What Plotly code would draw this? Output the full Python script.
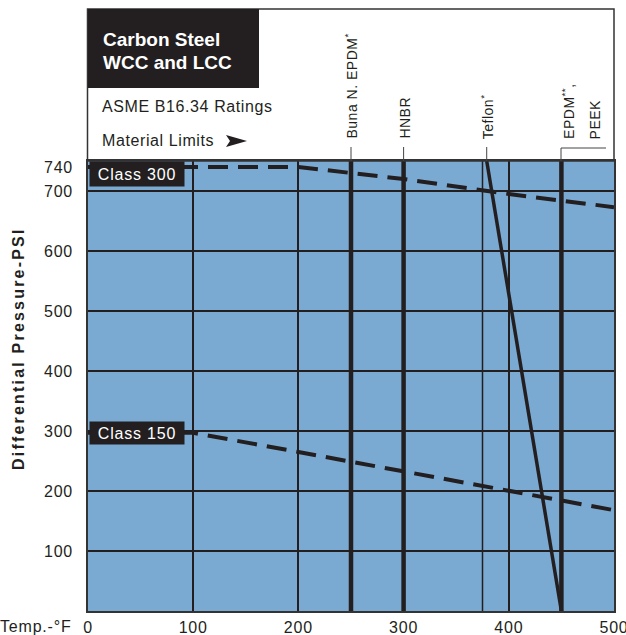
import plotly.graph_objects as go

# ---------------- data ----------------
temps = [0, 100, 200, 300, 400, 500]
class300 = [740, 740, 740, 720, 695, 673]
class150 = [297, 297, 265, 233, 200, 168]

material_names = ["Buna N. EPDM<sup>*</sup>", "HNBR", "EPDM<sup>**</sup>,"]
material_temps = [250, 300, 450]
teflon_temps = [379, 450]
teflon_press = [750, 0]
teflon_ref_temp = [375]

x_ticks = [0, 100, 200, 300, 400, 500]
y_ticks = [100, 200, 300, 400, 500, 600, 700, 740]
y_grid = [100, 200, 300, 400, 500, 600, 700]
x_grid = [100, 200, 300, 400]

Y_MAX = 750
FONT = "Liberation Sans, Arial, Helvetica, sans-serif"
INK = "#231f20"
BLUE = "#7aaad2"


def sp(text, ls):
    return f'<span style="letter-spacing:{ls}px">{text}</span>'


# pixel helpers for decorative header items (plot area: x 88..614, y 161..611)
L, R, T, B = 88, 614, 161, 611


def px(x):
    return (x - L) / (R - L)


def py(y):
    return (B - y) / (B - T)


fig = go.Figure()

# class rating lines
fig.add_trace(go.Scatter(x=temps, y=class300, mode="lines",
                         line=dict(color=INK, width=4, dash="20px,10px"),
                         hoverinfo="skip", showlegend=False))
fig.add_trace(go.Scatter(x=temps, y=class150, mode="lines",
                         line=dict(color=INK, width=4, dash="20px,10px"),
                         hoverinfo="skip", showlegend=False))

# material limit lines
for t in material_temps:
    fig.add_trace(go.Scatter(x=[t, t], y=[0, Y_MAX], mode="lines",
                             line=dict(color=INK, width=4.5),
                             hoverinfo="skip", showlegend=False))
fig.add_trace(go.Scatter(x=teflon_temps, y=teflon_press, mode="lines",
                         line=dict(color=INK, width=3.5),
                         hoverinfo="skip", showlegend=False))

shapes = []
# thin teflon reference line
for t in teflon_ref_temp:
    shapes.append(dict(type="line", xref="x", yref="paper", x0=t, x1=t, y0=0, y1=1,
                       line=dict(color=INK, width=1.5), layer="below"))

# header frame
shapes.append(dict(type="rect", xref="paper", yref="paper",
                   x0=px(87.5), x1=px(614), y0=py(161), y1=py(9),
                   line=dict(color="#333", width=1.5), fillcolor="rgba(0,0,0,0)"))
shapes.append(dict(type="rect", xref="paper", yref="paper",
                   x0=px(88), x1=px(259), y0=py(88), y1=py(9),
                   line=dict(width=0), fillcolor=INK))
# arrow
ax = [226, 247, 226, 230]
ay = [135, 141, 147, 141]
path = "M {} {} L {} {} L {} {} L {} {} Z".format(
    px(ax[0]), py(ay[0]), px(ax[1]), py(ay[1]), px(ax[2]), py(ay[2]), px(ax[3]), py(ay[3]))
shapes.append(dict(type="path", xref="paper", yref="paper", path=path,
                   fillcolor=INK, line=dict(width=0)))

# leader lines for material labels
for t in [250, 300, 379]:
    shapes.append(dict(type="line", xref="x", yref="paper", x0=t, x1=t,
                       y0=1, y1=py(147), line=dict(color="#444", width=1)))
# EPDM / PEEK bracket
shapes.append(dict(type="path", xref="paper", yref="paper",
                   path="M {} {} L {} {} L {} {}".format(px(561), 1, px(561), py(148), px(606), py(148)),
                   line=dict(color="#444", width=1)))

annotations = []
# header texts
annotations.append(dict(xref="paper", yref="paper", x=px(101), y=py(39), xanchor="left", yanchor="middle",
                        text="<b>Carbon Steel</b>", showarrow=False,
                        font=dict(family=FONT, size=19, color="white")))
annotations.append(dict(xref="paper", yref="paper", x=px(101), y=py(62), xanchor="left", yanchor="middle",
                        text="<b>WCC and LCC</b>", showarrow=False,
                        font=dict(family=FONT, size=19, color="white")))
annotations.append(dict(xref="paper", yref="paper", x=px(100), y=py(106), xanchor="left", yanchor="middle",
                        text=sp("ASME B16.34 Ratings", 0.6), showarrow=False,
                        font=dict(family=FONT, size=16, color=INK)))
annotations.append(dict(xref="paper", yref="paper", x=px(100), y=py(140), xanchor="left", yanchor="middle",
                        text=sp("Material Limits", 0.6), showarrow=False,
                        font=dict(family=FONT, size=16, color=INK)))

# material labels (rotated)
label_x = [250, 300, 450]
label_shift = [1, 1, 7]
for name, t, s in zip(material_names, label_x, label_shift):
    annotations.append(dict(xref="x", yref="paper", x=t, y=py(141), xanchor="center", yanchor="bottom",
                            text=sp(name, 0.5), textangle=-90, showarrow=False, xshift=s,
                            font=dict(family=FONT, size=14, color=INK)))
annotations.append(dict(xref="x", yref="paper", x=teflon_temps[0], y=py(141), xanchor="center",
                        yanchor="bottom", text=sp("Teflon<sup>*</sup>", 0.5), textangle=-90,
                        showarrow=False, xshift=1, font=dict(family=FONT, size=14, color=INK)))
annotations.append(dict(xref="x", yref="paper", x=material_temps[2], y=py(141), xanchor="center",
                        yanchor="bottom", text=sp("PEEK", 0.5), textangle=-90,
                        showarrow=False, xshift=34, font=dict(family=FONT, size=14, color=INK)))

# class labels
annotations.append(dict(xref="x", yref="y", x=0, y=728, xanchor="left", yanchor="middle", xshift=1,
                        text=sp("Class 300", 0.8), showarrow=False, bgcolor=INK, width=92, height=22,
                        font=dict(family=FONT, size=16, color="white")))
annotations.append(dict(xref="x", yref="y", x=0, y=297, xanchor="left", yanchor="middle", xshift=1,
                        text=sp("Class 150", 0.8), showarrow=False, bgcolor=INK, width=92, height=20,
                        font=dict(family=FONT, size=16, color="white")))

# axis titles
annotations.append(dict(xref="paper", yref="paper", x=px(18), y=py(349), xanchor="center", yanchor="middle",
                        text="<b>" + sp("Differential Pressure-PSI", 2.2) + "</b>", textangle=-90,
                        showarrow=False, font=dict(family=FONT, size=16, color=INK)))
annotations.append(dict(xref="paper", yref="paper", x=px(73), y=py(626), xanchor="right", yanchor="middle",
                        text=sp("Temp.-°F", 0.8), showarrow=False,
                        font=dict(family=FONT, size=16, color=INK)))

fig.update_layout(
    template="none",
    width=626, height=635,
    margin=dict(l=L, r=626 - R, t=T, b=635 - B, autoexpand=False),
    plot_bgcolor=BLUE, paper_bgcolor="white",
    shapes=shapes, annotations=annotations,
    font=dict(family=FONT, color=INK),
)
fig.update_xaxes(range=[0, 500], tickmode="array", tickvals=x_ticks,
                 ticktext=[sp(str(v), 0.8) for v in x_ticks],
                 showgrid=False, zeroline=False, showline=True, mirror=True, automargin=False,
                 linecolor="#333", linewidth=1.5, ticks="", ticklabelstandoff=1,
                 ticklabeloverflow="allow",
                 tickfont=dict(family=FONT, size=16, color=INK),
                 minor=dict(tickmode="array", tickvals=x_grid, showgrid=True,
                            gridcolor=INK, gridwidth=1.5, ticks=""))
fig.update_yaxes(range=[0, Y_MAX], tickmode="array", tickvals=y_ticks,
                 ticktext=[sp(str(v), 0.8) for v in y_ticks],
                 showgrid=False, zeroline=False, showline=True, mirror=True, automargin=False,
                 linecolor="#333", linewidth=1.5, ticks="", ticklabelstandoff=10,
                 ticklabeloverflow="allow",
                 tickfont=dict(family=FONT, size=16, color=INK),
                 minor=dict(tickmode="array", tickvals=y_grid, showgrid=True,
                            gridcolor=INK, gridwidth=1.5, ticks=""))

fig.write_html("out.html", config={"displayModeBar": False},
               post_script="document.body.style.margin='0';document.body.style.overflow='hidden';")
